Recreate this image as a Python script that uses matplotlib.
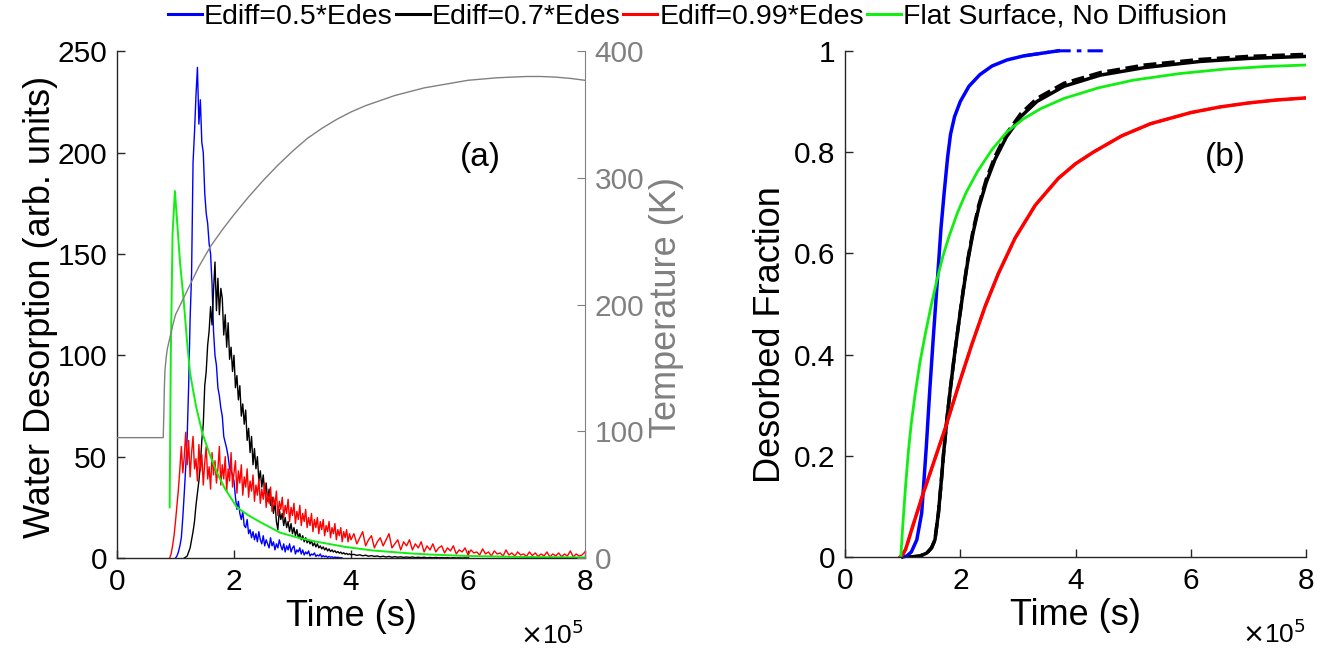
import numpy as np
import matplotlib
matplotlib.use("Agg")
import matplotlib.pyplot as plt

plt.rcParams['font.family'] = ['Liberation Sans', 'DejaVu Sans']

# ---------------- data (time in units of 1e5 s) ----------------
# panel (a): desorption traces, sampled every 0.025 (dense part) / 0.05 (tail)
blue_a = [0, 1, 3, 6, 10, 20, 32, 45, 60, 85, 118, 140, 195, 210, 228, 242, 214, 226, 205,
          200, 180, 170, 165, 155, 150, 135, 112, 100, 95, 84, 80, 74, 70, 60, 57, 54, 50,
          44, 43, 41, 38, 30, 24, 28, 22, 19, 23, 16, 15, 19, 12, 14, 10, 13, 9, 12, 8, 13,
          9, 7, 11, 6, 9, 7, 5, 10, 6, 8, 4, 7, 5, 9, 6, 4, 7, 3, 6, 4, 7, 3, 5, 6, 2, 4, 3,
          5, 2, 4, 1.5, 3, 2, 3.5, 1, 2, 1.5, 2.5, 0.8, 1.5, 1, 2, 0.5, 1.2, 0.6, 1, 0.3,
          0.8, 0.4, 0.6, 0.2, 0.5, 0.2, 0.4, 0.1, 0.2, 0]
blue_a_span = (1.0, 3.85)

black_a = [0, 0.5, 1, 3, 5, 9, 13, 18, 26, 32, 38, 46, 58, 66, 85, 92, 105, 112, 124, 115,
           132, 146, 122, 138, 120, 133, 128, 110, 120, 104, 116, 98, 104, 92, 100, 84, 90,
           78, 85, 70, 76, 66, 73, 58, 64, 52, 60, 46, 54, 44, 50, 38, 43, 35, 41, 32, 37,
           28, 34, 26, 30, 22, 28, 18, 14, 24, 19, 22, 16, 20, 15, 18, 13, 17, 12, 15, 11,
           14, 10, 12, 9, 11, 8, 10, 7.5, 9, 7, 8.5, 6, 7.5, 5.5, 7, 5, 6, 4.5, 5.5, 4, 5,
           3.5, 4.5, 3.2, 4, 3, 3.6, 2.6, 3.2, 2.4, 2.9, 2.1, 2.6, 1.9, 2.3, 1.7, 2.1, 1.6]
black_a_span = (1.15, 4.0)
black_a_tail = [1.8, 1.3, 1.6, 1.1, 1.4, 0.9, 1.2, 0.8, 1.0, 0.6, 0.9, 0.5, 0.8, 0.4, 0.7,
                0.4, 0.6, 0.3, 0.5, 0.3, 0.5, 0.2, 0.4, 0.2, 0.4, 0.1, 0.3, 0.1, 0.3, 0.1,
                0.2, 0.1, 0.2, 0, 0.2, 0, 0.1, 0, 0.1, 0]
black_a_tail_span = (4.05, 6.0)

red_a = [0, 2, 6, 11, 18, 26, 34, 44, 55, 42, 50, 62, 46, 58, 40, 52, 60, 44, 49, 38, 56,
         43, 51, 36, 47, 55, 39, 45, 34, 52, 41, 48, 37, 44, 55, 36, 46, 39, 50, 33, 44, 38,
         52, 35, 42, 48, 32, 43, 37, 46, 31, 40, 35, 44, 30, 38, 33, 41, 28, 36, 31, 39, 27,
         34, 29, 37, 25, 32, 27, 35, 23, 30, 26, 33, 21, 28, 24, 30, 20, 26, 22, 29, 18, 25,
         21, 27, 17, 23, 19, 26, 16, 22, 18, 24, 15, 20, 16, 22, 13, 19, 15, 20, 12, 18, 14,
         19, 11, 16, 13, 18, 10, 15, 12, 17, 9, 14, 11, 15, 8, 13, 10, 14, 8, 12, 9]
red_a_span = (0.9, 4.0)
red_a_tail = [12, 7, 10, 13, 6, 9, 11, 5, 8, 10, 6, 9, 12, 5, 7, 9, 4, 8, 6, 9, 4, 7, 5, 8,
              3, 6, 4, 7, 3, 5, 6, 2.5, 5, 3.5, 6, 2, 4, 3, 5, 1.5, 4, 2.5, 3, 1.5, 4.5, 2,
              3, 1, 3.5, 2, 2.5, 1, 4, 1.5, 2.5, 1, 3, 1.5, 2, 0.8, 3, 1.2, 2.5, 0.8, 2, 1,
              3, 0.5, 2, 1, 2.5, 0.6, 2, 1, 3.5, 0.5, 2, 1, 1.5, 3]
red_a_tail_span = (4.05, 8.0)

green_a_t = [0.90, 0.92, 0.95, 0.99, 1.03, 1.08, 1.14, 1.2, 1.25, 1.35, 1.46, 1.6, 1.71,
             1.85, 2.05, 2.25, 2.45, 2.79, 3.1, 3.42, 3.9, 4.38, 5.0, 5.36, 6.0, 7.0, 8.0]
green_a = [25, 100, 160, 181, 165, 145, 127, 106, 91, 75, 61.5, 50, 42, 34, 25, 21, 17.7,
           12.5, 10, 8, 5.5, 3.7, 2.3, 1.7, 1.0, 0.5, 0.3]

temp_t = [0, 0.79, 0.80, 0.81, 0.82, 0.84, 0.86, 0.9, 0.95, 1.0, 1.2, 1.4, 1.6, 1.8, 2.0,
          2.25, 2.5, 2.75, 3.0, 3.25, 3.5, 3.75, 4.0, 4.25, 4.5, 4.75, 5.0, 5.25, 5.5,
          5.75, 6.0, 6.25, 6.5, 6.75, 7.0, 7.25, 7.5, 7.75, 8.0]
temp_K = [95, 95, 112, 135, 148, 158, 165, 173, 183, 192, 211, 230, 246, 259, 271, 285,
          298, 310, 321, 331, 339, 346, 352, 357, 361, 365, 368, 371, 373, 375, 377, 378,
          379, 379.5, 380, 380, 379.5, 378.5, 377]

# panel (b): desorbed fraction
blue_b_t = [1.0, 1.07, 1.15, 1.245, 1.33, 1.41, 1.47, 1.535, 1.61, 1.665, 1.72, 1.78,
            1.83, 1.9, 2.0, 2.15, 2.34, 2.55, 2.81, 3.1, 3.7]
blue_b = [0, 0.002, 0.01, 0.034, 0.087, 0.218, 0.33, 0.44, 0.56, 0.65, 0.72, 0.79, 0.835,
          0.87, 0.9, 0.93, 0.953, 0.97, 0.982, 0.99, 1.0]
blue_b_dash_t = [3.1, 3.7, 4.48]
blue_b_dash = [0.99, 1.0, 1.0]

black_b_t = [1.13, 1.3, 1.42, 1.5, 1.56, 1.62, 1.67, 1.71, 1.77, 1.83, 1.9, 1.97, 2.05,
             2.13, 2.22, 2.32, 2.45, 2.6, 2.8, 3.05, 3.33, 3.8, 4.43, 5.2, 6.16, 7.0, 8.0]
black_b = [0, 0.002, 0.008, 0.018, 0.034, 0.087, 0.15, 0.205, 0.275, 0.335, 0.4, 0.46,
           0.525, 0.585, 0.64, 0.69, 0.74, 0.785, 0.83, 0.87, 0.9, 0.93, 0.952, 0.967,
           0.979, 0.985, 0.989]
black_b_dash = [0, 0.002, 0.008, 0.018, 0.034, 0.087, 0.15, 0.205, 0.275, 0.335, 0.4,
                0.46, 0.527, 0.588, 0.644, 0.695, 0.746, 0.791, 0.836, 0.876, 0.906, 0.936,
                0.957, 0.972, 0.983, 0.989, 0.993]

red_b_t = [0.955, 1.0, 1.05, 1.1, 1.15, 1.2, 1.27, 1.33, 1.5, 1.74, 2.0, 2.2, 2.43, 2.66,
           2.95, 3.3, 3.7, 4.0, 4.31, 4.8, 5.3, 6.0, 6.5, 7.0, 7.5, 8.0]
red_b = [0, 0.005, 0.015, 0.033, 0.052, 0.07, 0.095, 0.117, 0.174, 0.255, 0.35, 0.42,
         0.495, 0.56, 0.63, 0.695, 0.748, 0.777, 0.8, 0.832, 0.856, 0.878, 0.889, 0.897,
         0.903, 0.907]

green_b_t = [0.967, 1.0, 1.05, 1.1, 1.15, 1.22, 1.3, 1.4, 1.5, 1.6, 1.7, 1.8, 1.95, 2.1,
             2.3, 2.55, 2.81, 3.1, 3.4, 3.8, 4.4, 5.0, 5.8, 6.6, 7.3, 8.0]
green_b = [0, 0.06, 0.14, 0.21, 0.265, 0.325, 0.385, 0.445, 0.5, 0.55, 0.595, 0.632, 0.68,
           0.72, 0.762, 0.805, 0.84, 0.866, 0.886, 0.906, 0.927, 0.942, 0.955, 0.964,
           0.969, 0.972]

labels = ['Ediff=0.5*Edes', 'Ediff=0.7*Edes', 'Ediff=0.99*Edes', 'Flat Surface, No Diffusion']
colors = ['#0000ff', '#000000', '#ff0000', '#11ee11']
axcol = '#262626'
gray = '#808080'


def trace(vals, span, tail=None, tail_span=None):
    t = np.linspace(span[0], span[1], len(vals))
    y = np.asarray(vals, float)
    if tail is not None:
        t = np.concatenate([t, np.linspace(tail_span[0], tail_span[1], len(tail))])
        y = np.concatenate([y, tail])
    return t, y


# ---------------- figure ----------------
fig = plt.figure(figsize=(13.31, 6.6), dpi=100)
ax1 = fig.add_axes([0.0879, 0.1545, 0.3516, 0.768])
ax2 = fig.add_axes([0.6349, 0.156, 0.3464, 0.767])


def style(ax):
    ax.spines['top'].set_visible(False)
    ax.spines['right'].set_visible(False)
    for s in ['left', 'bottom']:
        ax.spines[s].set_color(axcol)
        ax.spines[s].set_linewidth(1.0)
    ax.tick_params(direction='in', length=6, width=1, colors=axcol, labelsize=21.5,
                   labelcolor='black', pad=7)
    ax.set_xlim(0, 8)
    ax.set_xticks([0, 2, 4, 6, 8])
    ax.set_xticklabels(['0', '2', '4', '6', '8'])
    ax.set_xlabel('Time (s)', fontsize=26, labelpad=2)
    ax.text(0.862, -0.152, r'$\times$10$^5$', transform=ax.transAxes, fontsize=19,
            ha='left', va='center')


# panel (a)
ax1t = ax1.twinx()
style(ax1)
t, y = trace(blue_a, blue_a_span)
h_blue, = ax1.plot(t, y, color=colors[0], lw=1.0)
t, y = trace(black_a, black_a_span, black_a_tail, black_a_tail_span)
h_black, = ax1.plot(t, y, color=colors[1], lw=1.0)
t, y = trace(red_a, red_a_span, red_a_tail, red_a_tail_span)
h_red, = ax1.plot(t, y, color=colors[2], lw=1.0)
h_green, = ax1.plot(green_a_t, green_a, color=colors[3], lw=1.4)
ax1.set_ylim(0, 250)
ax1.set_yticks([0, 50, 100, 150, 200, 250])
ax1.set_ylabel('Water Desorption (arb. units)', fontsize=26)
ax1.yaxis.set_label_coords(-0.126, 0.495)
ax1.text(0.733, 0.79, '(a)', transform=ax1.transAxes, fontsize=24, va='center')

ax1t.plot(temp_t, temp_K, color=gray, lw=1.0)
ax1t.set_ylim(0, 400)
ax1t.set_xlim(0, 8)
ax1t.set_yticks([0, 100, 200, 300, 400])
for s in ['top', 'left', 'bottom']:
    ax1t.spines[s].set_visible(False)
ax1t.spines['right'].set_color(gray)
ax1t.tick_params(axis='y', direction='in', length=6, colors=gray, labelsize=21.5,
                 labelcolor=gray, pad=7)
ax1t.set_ylabel('Temperature (K)', fontsize=26, color=gray)
ax1t.yaxis.set_label_coords(1.137, 0.495)

# panel (b)
style(ax2)
ax2.plot(blue_b_t, blue_b, color=colors[0], lw=2.5, clip_on=False)
ax2.plot(blue_b_dash_t, blue_b_dash, color=colors[0], lw=2.2, ls=(0, (5, 2, 1.5, 2)),
         clip_on=False)
ax2.plot(black_b_t, black_b_dash, color=colors[1], lw=2.5, ls='--')
ax2.plot(black_b_t, black_b, color=colors[1], lw=2.5)
ax2.plot(red_b_t, red_b, color=colors[2], lw=2.5)
ax2.plot(red_b_t, red_b, color=colors[2], lw=2.0, ls='--')
ax2.plot(green_b_t, green_b, color=colors[3], lw=2.0)
ax2.set_ylim(0, 1)
ax2.set_yticks([0, 0.2, 0.4, 0.6, 0.8, 1])
ax2.set_yticklabels(['0', '0.2', '0.4', '0.6', '0.8', '1'])
ax2.set_ylabel('Desorbed Fraction', fontsize=26)
ax2.yaxis.set_label_coords(-0.124, 0.44)
ax2.text(0.781, 0.79, '(b)', transform=ax2.transAxes, fontsize=24, va='center')

leg = fig.legend([h_blue, h_black, h_red, h_green], labels, loc='center',
                 bbox_to_anchor=(0.524, 0.975), ncol=4, frameon=False, fontsize=20.5,
                 handlelength=1.2, handletextpad=0.07, columnspacing=0.1,
                 borderpad=0.1)
for ln in leg.get_lines():
    ln.set_linewidth(2.2)

fig.savefig('out.png', dpi=100)
